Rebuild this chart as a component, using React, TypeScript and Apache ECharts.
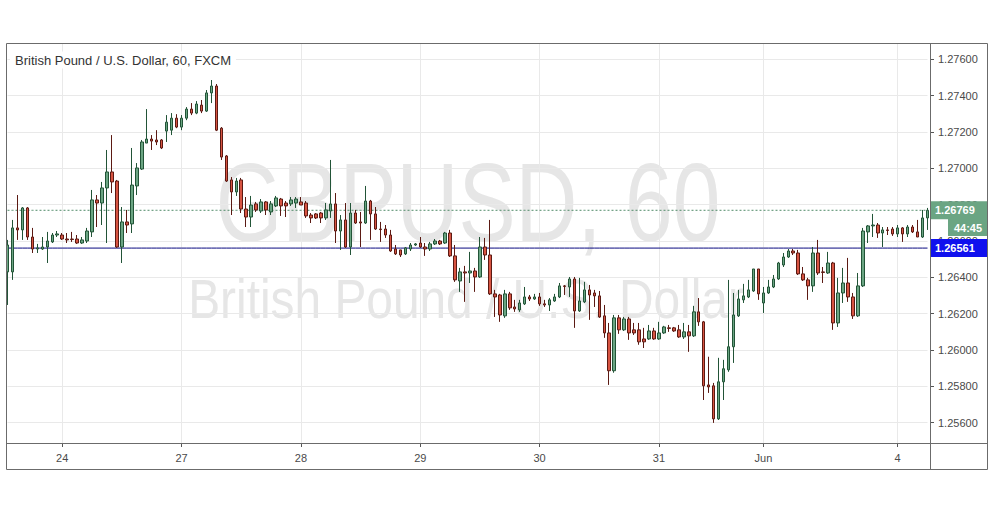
import React, { useEffect, useRef } from "react";
import * as echarts from "echarts";

// ---- Data (GBPUSD, 60 min, FXCM) ----
const sessionDays = ["2019-05-23", "2019-05-24", "2019-05-26", "2019-05-27", "2019-05-28", "2019-05-29", "2019-05-30", "2019-05-31", "2019-06-02", "2019-06-03", "2019-06-04"];
const sessionStartHour = [13, 0, 21, 0, 0, 0, 0, 0, 21, 0, 0];
const sessionEndHour = [23, 20, 23, 23, 23, 23, 23, 20, 23, 23, 6];
const monthNames = ["Jan", "Feb", "Mar", "Apr", "May", "Jun", "Jul", "Aug", "Sep", "Oct", "Nov", "Dec"];

const opens = [
  1.26430, 1.26430, 1.26672, 1.26661, 1.26782, 1.26622, 1.26556, 1.26556, 1.26567, 1.26595,
  1.26633, 1.26633, 1.26611, 1.26611, 1.26611, 1.26589, 1.26600, 1.26650, 1.26826, 1.26809,
  1.26892, 1.26980, 1.26930, 1.26567, 1.26705, 1.26694, 1.26903, 1.26996, 1.27139, 1.27161,
  1.27156, 1.27156, 1.27205, 1.27210, 1.27276, 1.27227, 1.27276, 1.27326, 1.27304, 1.27348,
  1.27315, 1.27415, 1.27453, 1.27221, 1.27068, 1.26936, 1.26870, 1.26936, 1.26776, 1.26732,
  1.26804, 1.26765, 1.26815, 1.26760, 1.26793, 1.26831, 1.26809, 1.26804, 1.26809, 1.26815,
  1.26809, 1.26743, 1.26749, 1.26754, 1.26727, 1.26765, 1.26804, 1.26655, 1.26716, 1.26567,
  1.26754, 1.26705, 1.26699, 1.26820, 1.26749, 1.26666, 1.26666, 1.26633, 1.26556, 1.26551,
  1.26529, 1.26556, 1.26578, 1.26589, 1.26567, 1.26556, 1.26584, 1.26600, 1.26589, 1.26644,
  1.26518, 1.26380, 1.26430, 1.26424, 1.26435, 1.26402, 1.26567, 1.26523, 1.26309, 1.26303,
  1.26188, 1.26309, 1.26237, 1.26221, 1.26254, 1.26292, 1.26281, 1.26292, 1.26254, 1.26248,
  1.26270, 1.26292, 1.26353, 1.26347, 1.26391, 1.26215, 1.26265, 1.26331, 1.26314, 1.26298,
  1.26188, 1.26094, 1.25886, 1.26177, 1.26111, 1.26171, 1.26111, 1.26111, 1.26061, 1.26061,
  1.26105, 1.26061, 1.26094, 1.26122, 1.26122, 1.26111, 1.26072, 1.26100, 1.26078, 1.26210,
  1.26155, 1.25808, 1.25803, 1.25621, 1.25825, 1.25891, 1.26018, 1.26188, 1.26276, 1.26292,
  1.26325, 1.26446, 1.26259, 1.26314, 1.26347, 1.26391, 1.26468, 1.26512, 1.26545, 1.26534,
  1.26419, 1.26386, 1.26353, 1.26534, 1.26430, 1.26424, 1.26479, 1.26149, 1.26314, 1.26369,
  1.26292, 1.26188, 1.26353, 1.26650, 1.26683, 1.26688, 1.26644, 1.26661, 1.26666, 1.26639,
  1.26672, 1.26639, 1.26677, 1.26650, 1.26622, 1.26727,
];

const closes = [
  1.26578, 1.26672, 1.26661, 1.26782, 1.26622, 1.26556, 1.26562, 1.26567, 1.26600, 1.26633,
  1.26639, 1.26611, 1.26606, 1.26608, 1.26589, 1.26606, 1.26655, 1.26826, 1.26809, 1.26892,
  1.26980, 1.26925, 1.26567, 1.26705, 1.26688, 1.26908, 1.27002, 1.27145, 1.27161, 1.27150,
  1.27145, 1.27112, 1.27254, 1.27276, 1.27227, 1.27276, 1.27326, 1.27304, 1.27354, 1.27315,
  1.27415, 1.27453, 1.27210, 1.27062, 1.26930, 1.26870, 1.26930, 1.26776, 1.26732, 1.26798,
  1.26771, 1.26815, 1.26771, 1.26804, 1.26837, 1.26793, 1.26793, 1.26826, 1.26831, 1.26798,
  1.26738, 1.26727, 1.26727, 1.26727, 1.26771, 1.26804, 1.26655, 1.26716, 1.26567, 1.26754,
  1.26699, 1.26699, 1.26820, 1.26749, 1.26666, 1.26663, 1.26633, 1.26545, 1.26529, 1.26523,
  1.26562, 1.26578, 1.26584, 1.26567, 1.26556, 1.26584, 1.26600, 1.26584, 1.26644, 1.26518,
  1.26386, 1.26430, 1.26424, 1.26435, 1.26402, 1.26567, 1.26523, 1.26309, 1.26292, 1.26193,
  1.26309, 1.26232, 1.26226, 1.26259, 1.26292, 1.26281, 1.26292, 1.26254, 1.26248, 1.26276,
  1.26292, 1.26353, 1.26350, 1.26391, 1.26215, 1.26270, 1.26331, 1.26303, 1.26298, 1.26182,
  1.26094, 1.25886, 1.26177, 1.26111, 1.26171, 1.26094, 1.26094, 1.26045, 1.26045, 1.26105,
  1.26061, 1.26094, 1.26127, 1.26119, 1.26105, 1.26072, 1.26100, 1.26078, 1.26210, 1.26155,
  1.25803, 1.25797, 1.25621, 1.25825, 1.25897, 1.26018, 1.26193, 1.26281, 1.26298, 1.26331,
  1.26446, 1.26309, 1.26314, 1.26347, 1.26391, 1.26479, 1.26512, 1.26545, 1.26534, 1.26419,
  1.26386, 1.26353, 1.26534, 1.26424, 1.26427, 1.26479, 1.26149, 1.26314, 1.26369, 1.26292,
  1.26188, 1.26353, 1.26655, 1.26683, 1.26688, 1.26644, 1.26661, 1.26658, 1.26639, 1.26672,
  1.26639, 1.26677, 1.26650, 1.26622, 1.26727, 1.26769,
];

const highs = [
  1.26606, 1.26716, 1.26853, 1.26787, 1.26787, 1.26672, 1.26584, 1.26622, 1.26650, 1.26644,
  1.26655, 1.26644, 1.26644, 1.26650, 1.26633, 1.26622, 1.26672, 1.26881, 1.26853, 1.26925,
  1.27101, 1.27183, 1.26936, 1.26787, 1.26771, 1.27112, 1.27029, 1.27156, 1.27326, 1.27183,
  1.27210, 1.27161, 1.27293, 1.27304, 1.27298, 1.27293, 1.27337, 1.27359, 1.27370, 1.27376,
  1.27431, 1.27486, 1.27464, 1.27227, 1.27073, 1.26952, 1.26947, 1.26947, 1.26842, 1.26848,
  1.26815, 1.26831, 1.26820, 1.26820, 1.26848, 1.26837, 1.26820, 1.26842, 1.26842, 1.26842,
  1.26820, 1.26754, 1.26754, 1.26760, 1.26809, 1.27046, 1.26864, 1.26743, 1.26809, 1.26809,
  1.26771, 1.26760, 1.26903, 1.26826, 1.26787, 1.26705, 1.26688, 1.26661, 1.26578, 1.26551,
  1.26567, 1.26589, 1.26589, 1.26622, 1.26589, 1.26595, 1.26611, 1.26606, 1.26650, 1.26661,
  1.26578, 1.26452, 1.26463, 1.26540, 1.26452, 1.26622, 1.26617, 1.26716, 1.26331, 1.26309,
  1.26331, 1.26320, 1.26276, 1.26276, 1.26347, 1.26303, 1.26309, 1.26314, 1.26276, 1.26286,
  1.26309, 1.26369, 1.26358, 1.26402, 1.26402, 1.26397, 1.26375, 1.26358, 1.26331, 1.26325,
  1.26248, 1.26149, 1.26193, 1.26193, 1.26182, 1.26182, 1.26149, 1.26149, 1.26122, 1.26138,
  1.26122, 1.26155, 1.26133, 1.26138, 1.26127, 1.26138, 1.26149, 1.26138, 1.26243, 1.26286,
  1.26160, 1.25963, 1.25819, 1.25957, 1.25946, 1.26386, 1.26314, 1.26331, 1.26364, 1.26386,
  1.26446, 1.26446, 1.26347, 1.26386, 1.26413, 1.26485, 1.26534, 1.26556, 1.26556, 1.26551,
  1.26457, 1.26397, 1.26567, 1.26606, 1.26457, 1.26540, 1.26485, 1.26397, 1.26452, 1.26507,
  1.26314, 1.26424, 1.26672, 1.26688, 1.26749, 1.26699, 1.26677, 1.26677, 1.26677, 1.26688,
  1.26677, 1.26688, 1.26688, 1.26716, 1.26771, 1.26782,
];

const lows = [
  1.26248, 1.26386, 1.26606, 1.26606, 1.26606, 1.26534, 1.26534, 1.26551, 1.26479, 1.26589,
  1.26622, 1.26606, 1.26589, 1.26595, 1.26584, 1.26584, 1.26589, 1.26622, 1.26677, 1.26688,
  1.26589, 1.26864, 1.26562, 1.26479, 1.26644, 1.26644, 1.26853, 1.26991, 1.27139, 1.27101,
  1.27128, 1.27106, 1.27145, 1.27183, 1.27221, 1.27210, 1.27265, 1.27293, 1.27298, 1.27304,
  1.27310, 1.27359, 1.27205, 1.27046, 1.26925, 1.26743, 1.26848, 1.26754, 1.26677, 1.26677,
  1.26760, 1.26754, 1.26743, 1.26743, 1.26787, 1.26738, 1.26732, 1.26793, 1.26782, 1.26798,
  1.26727, 1.26699, 1.26721, 1.26699, 1.26716, 1.26727, 1.26589, 1.26551, 1.26562, 1.26523,
  1.26694, 1.26567, 1.26694, 1.26606, 1.26661, 1.26595, 1.26617, 1.26540, 1.26523, 1.26512,
  1.26523, 1.26545, 1.26573, 1.26562, 1.26518, 1.26545, 1.26578, 1.26578, 1.26584, 1.26512,
  1.26375, 1.26320, 1.26265, 1.26369, 1.26320, 1.26397, 1.26496, 1.26303, 1.26182, 1.26155,
  1.26177, 1.26221, 1.26210, 1.26210, 1.26248, 1.26270, 1.26276, 1.26243, 1.26237, 1.26215,
  1.26265, 1.26286, 1.26303, 1.26292, 1.26122, 1.26210, 1.26259, 1.26166, 1.26237, 1.26177,
  1.26067, 1.25808, 1.25875, 1.26089, 1.26105, 1.26056, 1.26083, 1.26029, 1.26011, 1.26056,
  1.26056, 1.26056, 1.26089, 1.26100, 1.26100, 1.26067, 1.26061, 1.25990, 1.26072, 1.26133,
  1.25725, 1.25764, 1.25599, 1.25615, 1.25725, 1.25880, 1.25929, 1.26182, 1.26259, 1.26286,
  1.26320, 1.26276, 1.26204, 1.26309, 1.26341, 1.26386, 1.26457, 1.26507, 1.26523, 1.26413,
  1.26380, 1.26276, 1.26320, 1.26413, 1.26369, 1.26419, 1.26111, 1.26127, 1.26259, 1.26265,
  1.26171, 1.26182, 1.26347, 1.26589, 1.26622, 1.26617, 1.26567, 1.26633, 1.26628, 1.26622,
  1.26595, 1.26622, 1.26644, 1.26622, 1.26617, 1.26661,
];

const priceTicks = [1.256, 1.258, 1.26, 1.262, 1.264, 1.266, 1.268, 1.27, 1.272, 1.274, 1.276];
const yMin = 1.254883;
const yMax = 1.276842;
const levelPrice = 1.26561;
const lastPrice = 1.26769;
const countdownText = "44:45";
const titleText = "British Pound / U.S. Dollar, 60, FXCM";
const watermarkMain = "GBPUSD, 60";
const watermarkSub = "British Pound / U.S. Dollar";

// ---- build categories & tick labels ----
const categories: string[] = [];
sessionDays.forEach((d, k) => {
  for (let h = sessionStartHour[k]; h <= sessionEndHour[k]; h++) {
    categories.push(d + " " + String(h).padStart(2, "0") + ":00");
  }
});
const tickLabels: string[] = categories.map(() => "");
let lastMonthIdx = -100;
for (let i = 1; i < categories.length; i++) {
  const [d, t] = categories[i].split(" ");
  const [pd] = categories[i - 1].split(" ");
  const m = +d.slice(5, 7);
  const pm = +pd.slice(5, 7);
  const hour = +t.slice(0, 2);
  if (m !== pm) {
    tickLabels[i] = monthNames[m - 1];
    lastMonthIdx = i;
  } else if (d !== pd && hour === 0 && i - lastMonthIdx >= 6) {
    tickLabels[i] = String(+d.slice(8, 10));
  }
}
const showTick = (i: number) => tickLabels[i] !== "";

const FONT = '"Liberation Sans", Arial, sans-serif';
const UP = "#6ba583";
const DOWN = "#d75442";
const LAST_LINE = "#4f8a68";
const LEVEL_LINE = "#0a0a80";
const LEVEL_TAG = "#1010ee";

export default function App() {
  const ref = useRef<HTMLDivElement>(null);
  useEffect(() => {
    if (!ref.current) return;
    const chart = echarts.init(ref.current, undefined, { renderer: "svg" });
    const data = opens.map((o, i) => [o, closes[i], lows[i], highs[i]]);
    const tag = (bg: string, txt: string) => ({
      show: true,
      distance: 2.5,
      formatter: txt,
      backgroundColor: bg,
      color: "#fff",
      fontFamily: FONT,
      fontSize: 11,
      fontWeight: "bold" as const,
      width: 48,
      lineHeight: 12,
      padding: [3, 5, 3, 5],
      align: "left" as const,
    });
    const levelLine = (price: number, color: string, type: any, tagBg: string) => ({
      type: "line",
      data: categories.map(() => price),
      showSymbol: false,
      silent: true,
      z: 1,
      lineStyle: { color, type, width: 1 },
      endLabel: tag(tagBg, price.toFixed(5)),
      labelLayout: { hideOverlap: false },
    });
    chart.setOption({
      animation: false,
      backgroundColor: "#ffffff",
      grid: { left: 7.5, right: 67.5, top: 44, bottom: 64, containLabel: false },
      xAxis: {
        type: "category",
        data: categories,
        boundaryGap: false,
        axisLine: { show: false },
        axisTick: { show: true, interval: (i: number) => showTick(i), length: 4, lineStyle: { color: "#555" } },
        axisLabel: {
          interval: (i: number) => showTick(i),
          formatter: (_v: string, i: number) => tickLabels[i],
          color: "#4a4a4a",
          fontFamily: FONT,
          fontSize: 11,
          margin: 9,
        },
        splitLine: { show: true, interval: (i: number) => showTick(i), lineStyle: { color: "#e9e9e9", width: 1 } },
      },
      yAxis: {
        type: "value",
        position: "right",
        offset: 2.5,
        min: yMin,
        max: yMax,
        scale: true,
        axisLine: { show: false },
        axisTick: { show: true, customValues: priceTicks, length: 4, lineStyle: { color: "#555" } },
        axisLabel: {
          customValues: priceTicks,
          formatter: (v: number) => v.toFixed(5),
          color: "#4a4a4a",
          fontFamily: FONT,
          fontSize: 11,
          margin: 8,
        },
        splitLine: { show: true, lineStyle: { color: "#e9e9e9", width: 1 } },
      },
      series: [
        levelLine(levelPrice, LEVEL_LINE, "solid", LEVEL_TAG),
        levelLine(lastPrice, LAST_LINE, [2, 2], UP),
        {
          type: "candlestick",
          data,
          barWidth: 3,
          clip: false,
          z: 2,
          itemStyle: {
            color: UP,
            color0: DOWN,
            borderColor: "#225437",
            borderColor0: "#5b1a13",
            borderWidth: 1,
          },
        },
      ],
      graphic: [
        {
          type: "text",
          x: 468,
          y: 202,
          scaleX: 0.765,
          z: -10,
          silent: true,
          style: { text: watermarkMain, font: `112px ${FONT}`, fill: "#e6e6e6", align: "center", verticalAlign: "middle" },
        },
        {
          type: "text",
          x: 466,
          y: 299,
          scaleX: 0.87,
          z: -10,
          silent: true,
          style: { text: watermarkSub, font: `55px ${FONT}`, fill: "#e6e6e6", align: "center", verticalAlign: "middle" },
        },
        {
          type: "text",
          x: 10,
          y: 60,
          z: 50,
          silent: true,
          style: {
            text: titleText,
            font: `13px ${FONT}`,
            fill: "#333333",
            verticalAlign: "middle",
            backgroundColor: "#ffffff",
            padding: [2, 5, 2, 5],
          },
        },
        {
          type: "rect",
          z: 60,
          silent: true,
          shape: { x: 948, y: 219, width: 40, height: 17 },
          style: { fill: UP },
        },
        {
          type: "text",
          x: 968,
          y: 228,
          z: 61,
          silent: true,
          style: { text: countdownText, font: `bold 11px ${FONT}`, fill: "#ffffff", align: "center", verticalAlign: "middle" },
        },
        {
          type: "rect",
          z: 100,
          silent: true,
          shape: { x: 6.5, y: 43.5, width: 981, height: 426 },
          style: { fill: "none", stroke: "#6b6b6b", lineWidth: 1 },
        },
        {
          type: "line",
          z: 100,
          silent: true,
          shape: { x1: 930.5, y1: 43.5, x2: 930.5, y2: 469.5 },
          style: { stroke: "#6b6b6b", lineWidth: 1 },
        },
        {
          type: "line",
          z: 100,
          silent: true,
          shape: { x1: 6.5, y1: 443.5, x2: 987.5, y2: 443.5 },
          style: { stroke: "#6b6b6b", lineWidth: 1 },
        },
      ],
    });
    return () => chart.dispose();
  }, []);
  return <div ref={ref} style={{ position: "fixed", left: 0, top: 0, width: 995, height: 507, background: "#fff" }} />;
}
